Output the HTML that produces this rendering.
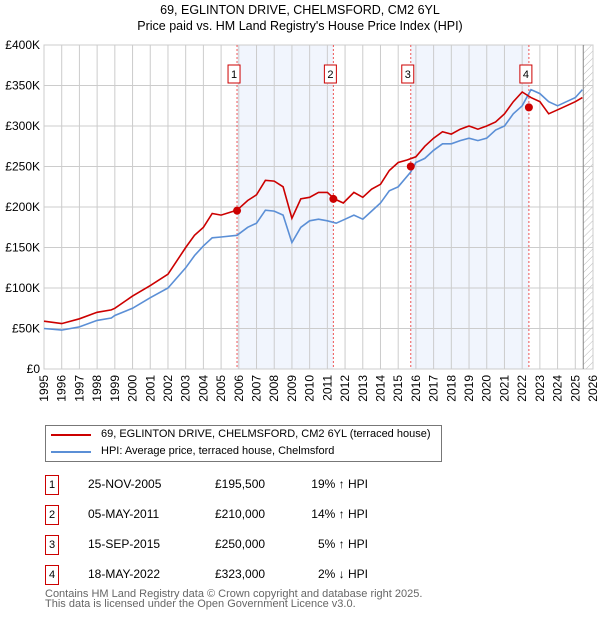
<!DOCTYPE html>
<html><head><meta charset="utf-8"><style>
body{margin:0;background:#fff;font-family:"Liberation Sans","DejaVu Sans",sans-serif;}
#wrap{position:relative;width:600px;height:620px;overflow:hidden}
.t{position:absolute;font-size:12px;color:#000;white-space:nowrap}
.box{position:absolute;border:1px solid #c00;width:12px;height:18px;font-size:11px;text-align:center;line-height:18px}
</style></head><body><div id="wrap">
<div class="t" style="left:0;width:600px;text-align:center;top:2px;font-size:12.5px;line-height:16px">69, EGLINTON DRIVE, CHELMSFORD, CM2 6YL<br>Price paid vs. HM Land Registry's House Price Index (HPI)</div>
<svg id="chart" width="600" height="420" style="position:absolute;left:0;top:0"></svg>
<div style="position:absolute;left:45px;top:425px;width:395px;height:35px;border:1px solid #777">
<div style="position:absolute;left:5px;top:8px;width:40px;height:2px;background:#c00"></div>
<div class="t" style="left:55px;top:2px;font-size:11px">69, EGLINTON DRIVE, CHELMSFORD, CM2 6YL (terraced house)</div>
<div style="position:absolute;left:5px;top:25px;width:40px;height:2px;background:#5b8fd6"></div>
<div class="t" style="left:55px;top:19px;font-size:11px">HPI: Average price, terraced house, Chelmsford</div>
</div>
<div id="tbl"></div>
<div class="t" style="left:45px;top:589px;color:#666;font-size:11px;line-height:10px">Contains HM Land Registry data © Crown copyright and database right 2025.<br>This data is licensed under the Open Government Licence v3.0.</div>
</div>
<script>
const hpiT=[1995,1996,1997,1998,1998.8,1999,2000,2001,2002,2003,2003.5,2004,2004.5,2005,2005.9,2006.5,2007,2007.5,2008,2008.5,2009,2009.5,2010,2010.5,2011,2011.5,2012,2012.5,2013,2013.5,2014,2014.5,2015,2015.7,2016,2016.5,2017,2017.5,2018,2018.5,2019,2019.5,2020,2020.5,2021,2021.5,2022,2022.5,2023,2023.5,2024,2024.5,2025,2025.4];
const hpiV=[50,48,52,60,63,66,75,88,100,125,140,152,162,163,165,175,180,196,195,190,156,175,183,185,183,180,185,190,185,195,205,220,225,243,255,260,270,278,278,282,285,282,285,295,300,315,325,345,340,330,325,330,335,345];
const propT=[1995,1996,1997,1998,1998.8,1999,2000,2001,2002,2003,2003.5,2004,2004.5,2005,2005.9,2006.5,2007,2007.5,2008,2008.5,2009,2009.5,2010,2010.5,2011,2011.4,2011.9,2012.5,2013,2013.5,2014,2014.5,2015,2015.5,2016,2016.5,2017,2017.5,2018,2018.5,2019,2019.5,2020,2020.5,2021,2021.5,2022,2022.5,2023,2023.5,2024,2024.5,2025,2025.4];
const propV=[59,56,62,70,73,75,90,103,117,150,165,175,192,190,196,208,215,233,232,225,186,210,212,218,218,210,205,218,212,222,228,245,255,258,262,275,285,293,290,296,300,296,300,305,315,330,342,335,330,315,320,325,330,335];
const saleT=[2005.9,2011.34,2015.71,2022.38];
const saleV=[195.5,210,250,323];
const saleLabels=["1","2","3","4"];
const saleDates=["25-NOV-2005","05-MAY-2011","15-SEP-2015","18-MAY-2022"];
const salePrices=["£195,500","£210,000","£250,000","£323,000"];
const saleDiff=["19% ↑ HPI","14% ↑ HPI","5% ↑ HPI","2% ↓ HPI"];
const yTicks=[0,50,100,150,200,250,300,350,400];
const yLabels=["£0","£50K","£100K","£150K","£200K","£250K","£300K","£350K","£400K"];
const xTicks=[1995,1996,1997,1998,1999,2000,2001,2002,2003,2004,2005,2006,2007,2008,2009,2010,2011,2012,2013,2014,2015,2016,2017,2018,2019,2020,2021,2022,2023,2024,2025,2026];
const X0=44,X1=593,Y0=369,Y1=45;
const xs=t=>X0+(t-1995)/(2026-1995)*(X1-X0);
const ys=v=>Y0-v/400*(Y0-Y1);
const svg=document.getElementById('chart');const NS='http://www.w3.org/2000/svg';
function mk(tag,a,p){const e=document.createElementNS(NS,tag);for(const k in a)e.setAttribute(k,a[k]);(p||svg).appendChild(e);return e;}
for(const [a,b] of [[0,1],[2,3]]){const r=mk('rect',{x:xs(saleT[a]),y:Y1,width:xs(saleT[b])-xs(saleT[a]),height:Y0-Y1,fill:'#eef3fc',opacity:0.8});

}
const defs=mk('defs',{});const pat=mk('pattern',{id:'h',width:5,height:5,patternUnits:'userSpaceOnUse',patternTransform:'rotate(45)'},defs);mk('line',{x1:0,y1:0,x2:0,y2:5,stroke:'#bbb','stroke-width':1},pat);
const HS=2025.45;
const hr=mk('rect',{x:xs(HS),y:Y1,width:X1-xs(HS),height:Y0-Y1,fill:'url(#h)'});


yTicks.forEach((v,i)=>{mk('line',{x1:X0,x2:X1,y1:ys(v),y2:ys(v),stroke:'#ccc'});
const t=mk('text',{x:X0-4,y:ys(v)+4,'text-anchor':'end','font-size':12,fill:'#000'});t.textContent=yLabels[i];

});
xTicks.forEach(v=>{mk('line',{x1:xs(v),x2:xs(v),y1:Y1,y2:Y0,stroke:'#ccc'});
const t=mk('text',{x:0,y:0,'text-anchor':'end','font-size':12,fill:'#000',transform:`translate(${xs(v)+4},${Y0+6}) rotate(-90)`});t.textContent=v;

});
mk('rect',{x:X0,y:Y1,width:X1-X0,height:Y0-Y1,fill:'none',stroke:'#ccc'});
mk('line',{x1:xs(HS),x2:xs(HS),y1:Y1,y2:Y0,stroke:'#888','stroke-width':1});
saleT.forEach((t,i)=>{mk('line',{x1:xs(t),x2:xs(t),y1:Y1,y2:Y0,stroke:'#e55','stroke-dasharray':'2,2','stroke-width':1});
const g=mk('g',{});


mk('rect',{x:xs(t)-9,y:65,width:12,height:18,fill:'#fff',stroke:'#c00'},g);
const tx=mk('text',{x:xs(t)-3,y:78,'text-anchor':'middle','font-size':11},g);tx.textContent=saleLabels[i];});
function line(T,V,c,name){const d=T.map((t,i)=>(i?'L':'M')+xs(t).toFixed(1)+','+ys(V[i]).toFixed(1)).join('');
const p=mk('path',{d,fill:'none',stroke:c,'stroke-width':1.6});

}
line(hpiT,hpiV,'#5b8fd6','hpi-line');
line(propT,propV,'#c00','property-line');
saleT.forEach((t,i)=>{const c=mk('circle',{cx:xs(t),cy:ys(saleV[i]),r:4,fill:'#c00'});

});
const tbl=document.getElementById('tbl');
saleT.forEach((t,i)=>{const y=475+i*30;
const b=document.createElement('div');b.className='box';b.style.left='45px';b.style.top=y+'px';b.textContent=saleLabels[i];


tbl.appendChild(b);
[[88,saleDates[i],'left'],[215,salePrices[i],'left'],[300,saleDiff[i],'right']].forEach(([x,s,al])=>{const d=document.createElement('div');d.className='t';d.style.top=(y+2)+'px';
if(al==='right'){d.style.left='230px';d.style.width='138px';d.style.textAlign='right';}else d.style.left=x+'px';
d.textContent=s;


tbl.appendChild(d);});});
</script></body></html>
